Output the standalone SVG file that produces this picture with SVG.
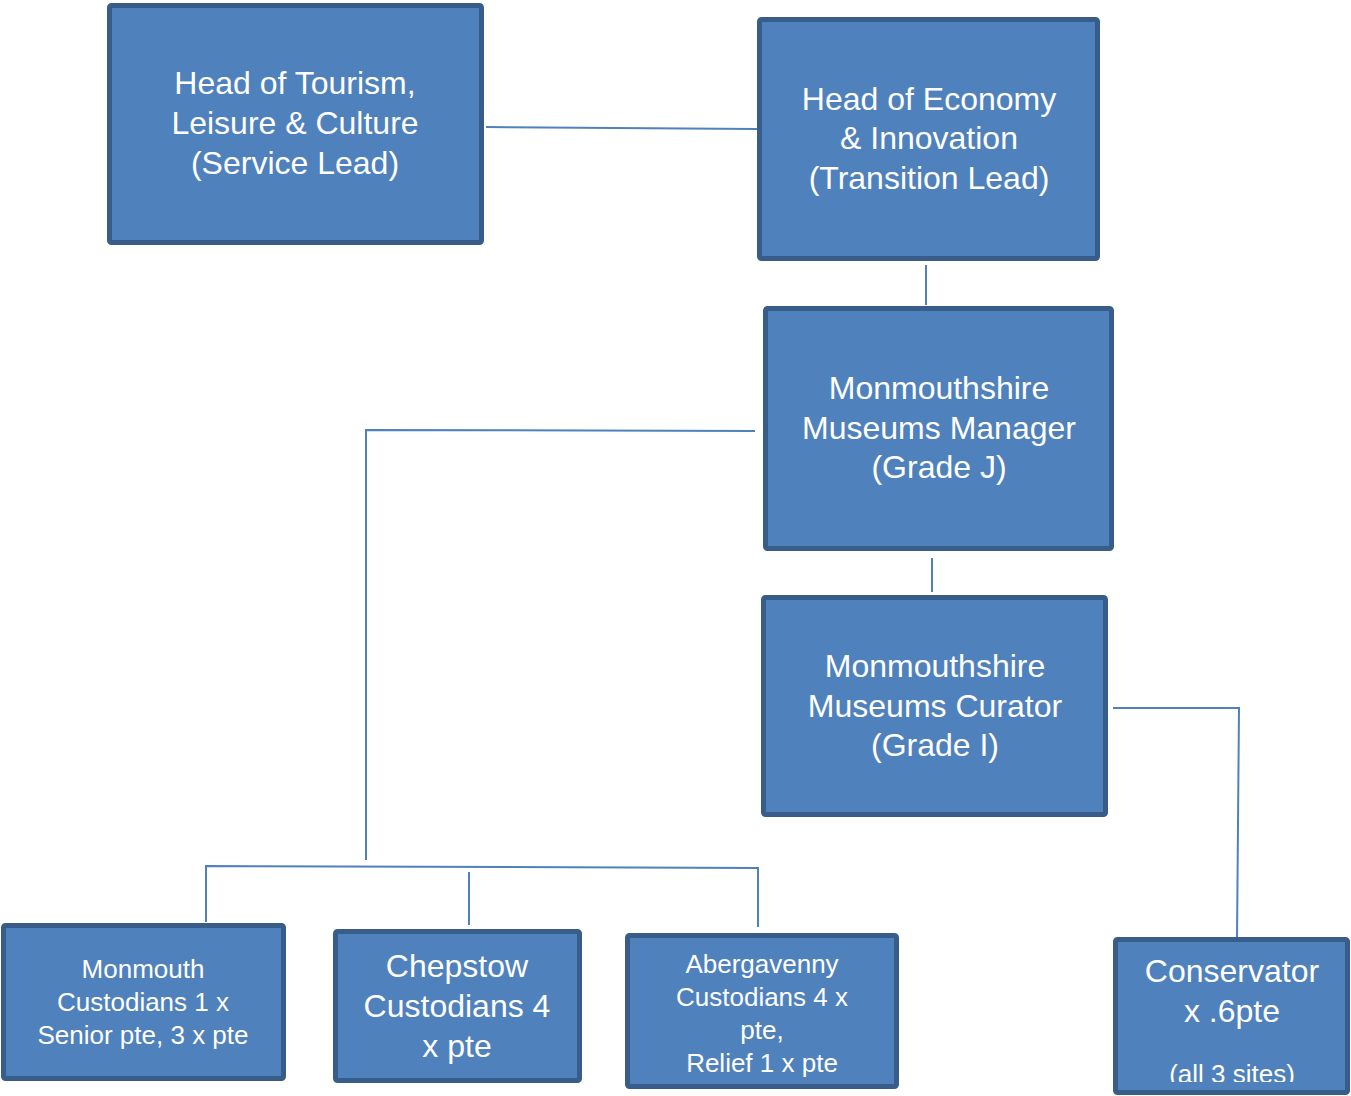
<svg xmlns="http://www.w3.org/2000/svg" width="1351" height="1096" viewBox="0 0 1351 1096">
<style>
.box{fill:#4F81BD;stroke:#385D8A;stroke-width:5}
.t{font-family:"Liberation Sans",Arial,sans-serif;fill:#fff;text-anchor:middle;font-size:32px}
.s{font-size:26px}
.c{fill:none;stroke:#4F81BD;stroke-width:2}
</style>
<defs>
<clipPath id="clipCons"><rect x="1118" y="942" width="227" height="140"/></clipPath>
</defs>
<rect width="1351" height="1096" fill="#fff"/>
<g id="connectors">
<line class="c" x1="486" y1="127" x2="757" y2="129"/>
<line class="c" x1="926" y1="265" x2="926" y2="305"/>
<polyline class="c" points="755,431 366,430 366,860"/>
<line class="c" x1="932" y1="558" x2="932" y2="592"/>
<polyline class="c" points="206,922 206,866 758,868 758,927"/>
<line class="c" x1="469" y1="872" x2="469" y2="925"/>
<polyline class="c" points="1113,708 1239,708 1237,940"/>
</g>
<g id="head-tourism">
<rect class="box" x="109.5" y="5.5" width="372" height="237" rx="2"/>
<text class="t" x="295" y="94">Head of Tourism,</text>
<text class="t" x="295" y="134">Leisure &amp; Culture</text>
<text class="t" x="295" y="174">(Service Lead)</text>
</g>
<g id="head-economy">
<rect class="box" x="759.5" y="19.5" width="338" height="239" rx="2"/>
<text class="t" x="929" y="110">Head of Economy</text>
<text class="t" x="929" y="149">&amp; Innovation</text>
<text class="t" x="929" y="189">(Transition Lead)</text>
</g>
<g id="museums-manager">
<rect class="box" x="765.5" y="308.5" width="346" height="240" rx="2"/>
<text class="t" x="939" y="399">Monmouthshire</text>
<text class="t" x="939" y="439">Museums Manager</text>
<text class="t" x="939" y="478">(Grade J)</text>
</g>
<g id="museums-curator">
<rect class="box" x="763.5" y="597.5" width="342" height="217" rx="2"/>
<text class="t" x="935" y="677">Monmouthshire</text>
<text class="t" x="935" y="717">Museums Curator</text>
<text class="t" x="935" y="756">(Grade I)</text>
</g>
<g id="monmouth">
<rect class="box" x="3.5" y="925.5" width="280" height="153" rx="2"/>
<text class="t s" x="143" y="978">Monmouth</text>
<text class="t s" x="143" y="1011">Custodians 1 x</text>
<text class="t s" x="143" y="1044">Senior pte, 3 x pte</text>
</g>
<g id="chepstow">
<rect class="box" x="335.5" y="931.5" width="244" height="149" rx="2"/>
<text class="t" x="457" y="977">Chepstow</text>
<text class="t" x="457" y="1017">Custodians 4</text>
<text class="t" x="457" y="1057">x pte</text>
</g>
<g id="abergavenny">
<rect class="box" x="627.5" y="935.5" width="269" height="151" rx="2"/>
<text class="t s" x="762" y="973">Abergavenny</text>
<text class="t s" x="762" y="1006">Custodians 4 x</text>
<text class="t s" x="762" y="1039">pte,</text>
<text class="t s" x="762" y="1072">Relief 1 x pte</text>
</g>
<g id="conservator">
<rect class="box" x="1115.5" y="939.5" width="232" height="153" rx="2"/>
<g clip-path="url(#clipCons)">
<text class="t" x="1232" y="982">Conservator</text>
<text class="t" x="1232" y="1022">x .6pte</text>
<text class="t s" x="1232" y="1083">(all 3 sites)</text>
</g>
</g>
</svg>
